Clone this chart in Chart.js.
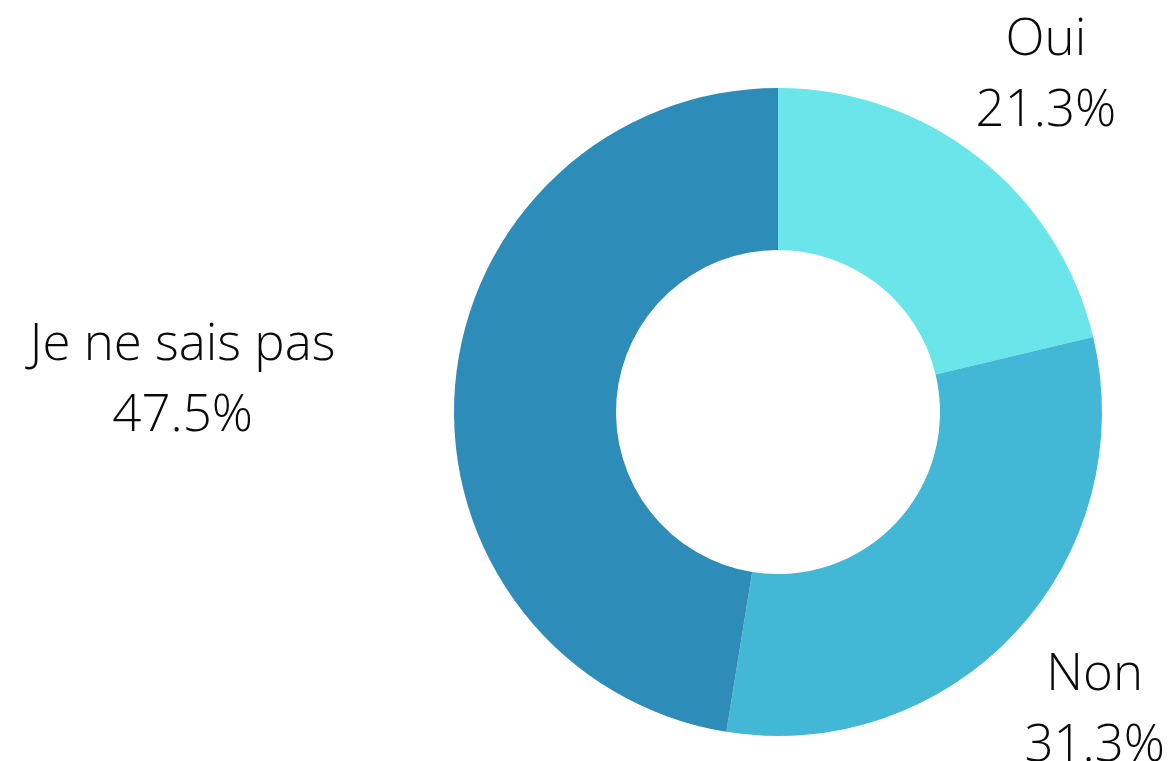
<!DOCTYPE html>
<html>
<head>
<meta charset="utf-8">
<script src="https://cdn.jsdelivr.net/npm/chart.js@4/dist/chart.umd.min.js"></script>
<style>
html,body{margin:0;padding:0;background:#fff;}
canvas{display:block;}
</style>
</head>
<body>
<canvas id="c" width="1168" height="761"></canvas>
<script>
const categories = ["Oui", "Non", "Je ne sais pas"];
const values = [21.3, 31.3, 47.5];
const valueLabels = ["21.3%", "31.3%", "47.5%"];
const colors = ["#6ae5e9", "#42b7d6", "#2e8cb9"];

const FONT = "300 51px 'Open Sans'";
const LINE = 71;

const outsideLabels = {
  id: 'outsideLabels',
  afterDraw(chart) {
    const ctx = chart.ctx;
    const meta = chart.getDatasetMeta(0);
    ctx.save();
    ctx.font = FONT;
    ctx.fillStyle = '#0a0a0a';
    ctx.textAlign = 'center';
    ctx.textBaseline = 'middle';
    meta.data.forEach((arc, i) => {
      const mid = (arc.startAngle + arc.endAngle) / 2;
      const ux = Math.cos(mid), uy = Math.sin(mid);
      const lines = [categories[i], valueLabels[i]];
      const w = Math.max(...lines.map(t => ctx.measureText(t).width));
      const h = LINE * 2;
      const D = arc.outerRadius * 0.9;
      const cx = arc.x + ux * D + ux * w;
      const cy = arc.y + uy * D + uy * h + 4;
      ctx.fillText(lines[0], cx, cy - LINE / 2);
      ctx.fillText(lines[1], cx, cy + LINE / 2);
    });
    ctx.restore();
  }
};

new Chart(document.getElementById('c'), {
  type: 'doughnut',
  data: {
    labels: categories,
    datasets: [{
      data: values,
      backgroundColor: colors,
      borderWidth: 0
    }]
  },
  options: {
    responsive: false,
    devicePixelRatio: 1,
    animation: false,
    cutout: '50%',
    layout: { padding: { left: 454, right: 66, top: 88, bottom: 25 } },
    plugins: { legend: { display: false }, tooltip: { enabled: false } }
  },
  plugins: [outsideLabels]
});
</script>
</body>
</html>
